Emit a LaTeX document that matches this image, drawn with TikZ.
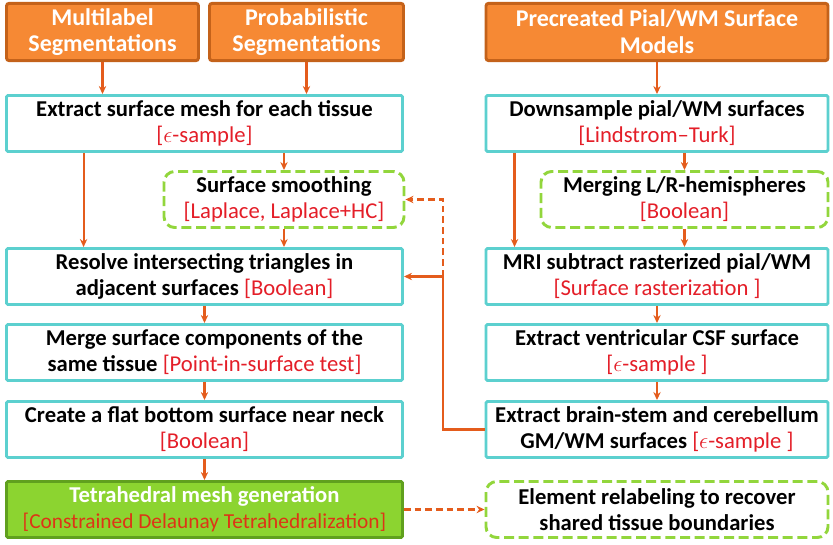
\documentclass[tikz,border=0pt]{standalone}
\usepackage{fontspec}
\setmainfont{Carlito}
\usetikzlibrary{arrows.meta}

\definecolor{orgfill}{RGB}{246,137,52}
\definecolor{orgline}{RGB}{196,98,26}
\definecolor{cyanline}{RGB}{92,208,207}
\definecolor{greenline}{RGB}{146,214,60}
\definecolor{tetfill}{RGB}{140,212,48}
\definecolor{tetline}{RGB}{96,160,30}
\definecolor{arrcol}{RGB}{228,92,28}
\definecolor{algred}{RGB}{228,30,40}
\definecolor{tetred}{RGB}{222,52,22}

\newcommand{\algtxt}[1]{{\mdseries\fontsize{17}{19.5}\selectfont\color{algred}[#1]}}

\begin{document}
\begin{tikzpicture}[x=0.75pt,y=0.75pt,yscale=-1,xscale=1,
  boxfont/.style={font=\bfseries\fontsize{17}{19.5}\selectfont, align=center, inner sep=0pt},
  srcbox/.style={boxfont, font=\bfseries\fontsize{18}{20}\selectfont, draw=orgline, fill=orgfill, line width=2.2pt, rounded corners=2pt, text=white, minimum height=43pt},
  procbox/.style={boxfont, draw=cyanline, fill=white, line width=2.2pt, rounded corners=1pt, minimum height=42pt},
  optbox/.style={boxfont, draw=greenline, fill=white, line width=2.2pt, dash pattern=on 7.5pt off 3.5pt, rounded corners=8pt, minimum height=42pt},
  finalbox/.style={boxfont, draw=tetline, fill=tetfill, line width=2.2pt, rounded corners=1pt, text=white, minimum height=42pt},
  arr/.style={draw=arrcol, line width=1.6pt, -{Stealth[length=6pt,width=5.5pt]}},
  dasharr/.style={dash pattern=on 5pt off 3pt}
  ]
\useasboundingbox (0,0) rectangle (833,545);

%Input boxes
\node[srcbox, minimum width=144pt] (multi) at (102.5,32) {Multilabel\\Segmentations};
\node[srcbox, minimum width=145.5pt] (prob) at (306.5,32) {Probabilistic\\Segmentations};
\node[srcbox, minimum width=256.5pt] (pre) at (657,32) {Precreated Pial/WM Surface\\Models};

%Left column
\node[procbox, minimum width=297pt] (extract) at (204.5,123.5) {Extract surface mesh for each tissue\\\algtxt{$\epsilon$-sample}};
\node[optbox, minimum width=180pt] (smooth) at (284,199.5) {Surface smoothing\\\algtxt{Laplace, Laplace+HC}};
\node[procbox, minimum width=297pt] (resolve) at (204.5,276.5) {Resolve intersecting triangles in\\adjacent surfaces \algtxt{Boolean}};
\node[procbox, minimum width=297pt] (merge) at (204.5,352.5) {Merge surface components of the\\same tissue \algtxt{Point-in-surface test}};
\node[procbox, minimum width=297pt] (flat) at (204.5,429.5) {Create a flat bottom surface near neck\\\algtxt{Boolean}};
\node[finalbox, minimum width=297pt] (tetra) at (204.5,509.5) {Tetrahedral mesh generation\\{\mdseries\fontsize{16}{19.5}\selectfont\color{tetred}[Constrained Delaunay Tetrahedralization]}};

%Right column
\node[procbox, minimum width=256.5pt] (down) at (657,123.5) {Downsample pial/WM surfaces\\\algtxt{Lindstrom--Turk}};
\node[optbox, minimum width=215.25pt] (lr) at (684.5,199.5) {Merging L/R-hemispheres\\\algtxt{Boolean}};
\node[procbox, minimum width=256.5pt] (mri) at (657,276.5) {MRI subtract rasterized pial/WM\\\algtxt{Surface rasterization }};
\node[procbox, minimum width=256.5pt] (vent) at (657,352.5) {Extract ventricular CSF surface\\\algtxt{$\epsilon$-sample }};
\node[procbox, minimum width=256.5pt] (stem) at (657,429.5) {Extract brain-stem and cerebellum\\GM/WM surfaces \algtxt{$\epsilon$-sample }};
\node[optbox, minimum width=256.5pt] (relabel) at (657,509.5) {Element relabeling to recover\\shared tissue boundaries};

%Arrows left
\draw[arr] (multi.south) -- (multi.south |- extract.north);
\draw[arr] (prob.south) -- (prob.south |- extract.north);
\draw[arr] ([xshift=58.9pt]extract.south west) -- ([xshift=58.9pt]resolve.north west);
\draw[arr] (extract.south -| smooth.north) -- (smooth.north);
\draw[arr] (smooth.south) -- (smooth.south |- resolve.north);
\draw[arr] (resolve.south) -- (merge.north);
\draw[arr] (merge.south) -- (flat.north);
\draw[arr] (flat.south) -- (tetra.north);

%Arrows right
\draw[arr] (pre.south) -- (pre.south |- down.north);
\draw[arr] ([xshift=22.5pt]down.south west) -- ([xshift=22.5pt]mri.north west);
\draw[arr] (down.south -| lr.north) -- (lr.north);
\draw[arr] (lr.south) -- (lr.south |- mri.north);
\draw[arr] (mri.south) -- (vent.north);
\draw[arr] (vent.south) -- (stem.north);

%Cross links
\coordinate (jn) at (443,276.5);
\draw[arr] (stem.west) -| (jn) -- (resolve.east);
\draw[arr, dasharr] (jn) |- (smooth.east);
\draw[arr, dasharr] (tetra.east) -- (relabel.west);
\end{tikzpicture}
\end{document}
